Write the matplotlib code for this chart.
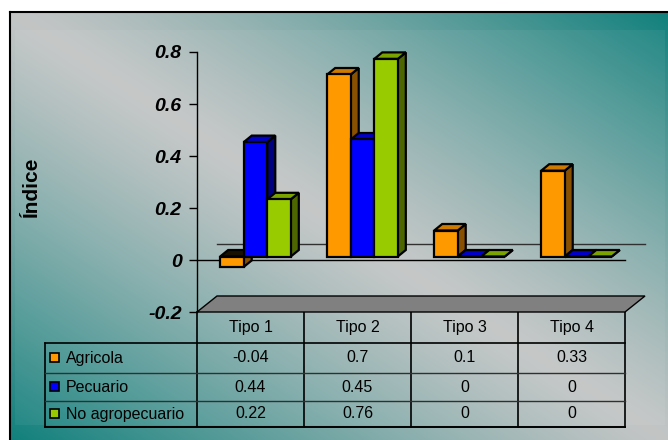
import numpy as np
import matplotlib.pyplot as plt
from matplotlib.patches import Polygon, Rectangle

categories = ['Tipo 1', 'Tipo 2', 'Tipo 3', 'Tipo 4']
series_names = ['Agricola', 'Pecuario', 'No agropecuario']
agricola = [-0.04, 0.7, 0.1, 0.33]
pecuario = [0.44, 0.45, 0, 0]
no_agropecuario = [0.22, 0.76, 0, 0]
yticks = [-0.2, 0, 0.2, 0.4, 0.6, 0.8]
ytick_labels = ['-0.2', '0', '0.2', '0.4', '0.6', '0.8']

# front, side, top colours for each series
face_colors = [
    ('#FF9900', '#885000', '#CC7A00'),
    ('#0000FF', '#000080', '#0000C8'),
    ('#99CC00', '#4D6600', '#7AA300'),
]

plt.rcParams['font.family'] = ['Liberation Sans', 'DejaVu Sans']

W, H = 668, 440
fig = plt.figure(figsize=(W / 100, H / 100), dpi=100)

# background layer in pixel units
bg = fig.add_axes([0, 0, 1, 1])
bg.axis('off')

# diagonal gradient: grey along the top-left/bottom-right diagonal, teal toward the other corners
u = np.linspace(0, 1, 400)
v = np.linspace(0, 1, 300)
U, V = np.meshgrid(u, v)
t = np.clip(np.abs(U - V), 0, 1) ** 1.2
grey = np.array([195, 197, 197]) / 255
teal = np.array([16, 128, 124]) / 255
img = grey + (teal - grey) * t[..., None]
bg.imshow(img, extent=(10, 670, 442, 12), aspect='auto', interpolation='bilinear', zorder=0)
bg.add_patch(Rectangle((15, 30), 650, 395, fc='white', alpha=0.05, lw=0, zorder=1))
bg.plot([10, 668], [12, 12], color='black', lw=1.5, zorder=2)
bg.plot([10, 10], [12, 440], color='black', lw=1.5, zorder=2)
bg.set_xlim(0, W)
bg.set_ylim(H, 0)

bg.text(31, 187, 'Índice', rotation=90, fontsize=15, fontweight='bold',
        ha='center', va='center')

# chart axes (front plane)
ax = fig.add_axes([197 / W, (H - 312) / H, 428 / W, 260 / H])
ax.set_xlim(0, 4)
ax.set_ylim(-0.2, 0.8)
ax.patch.set_visible(False)
for s in ['top', 'right', 'bottom']:
    ax.spines[s].set_visible(False)
ax.spines['left'].set_linewidth(1)
ax.set_xticks([])
ax.set_yticks(yticks)
ax.set_yticklabels(ytick_labels, fontsize=14, fontweight='bold', fontstyle='italic')
ax.tick_params(axis='y', direction='out', length=6, width=1, pad=5)

px = 4 / 428
py = 1 / 260

# floor and zero lines
fdx, fdy = 20 * px, 16 * py
floor = Polygon([(0, -0.2), (4, -0.2), (4 + fdx, -0.2 + fdy), (fdx, -0.2 + fdy)],
                closed=True, fc='#808080', ec='black', lw=1, clip_on=False, zorder=1)
ax.add_patch(floor)
ax.plot([0, 4], [0, 0], color='black', lw=1, clip_on=False, zorder=1)
ax.plot([fdx, 4 + fdx], [fdy, fdy], color='#303030', lw=1, clip_on=False, zorder=1)

# 3D columns
bw = 0.22
bfx, bfy = 5 * px, 3.5 * py
ddx, ddy = 8 * px, 6.5 * py


def draw_bar(xl, val, colors, z):
    front_c, side_c, top_c = colors
    xr = xl + bw
    lo = min(0, val) + bfy
    hi = max(0, val) + bfy
    if val < 0:
        top_c = '#1a1000'
    kw = dict(closed=True, ec='black', lw=1.6, joinstyle='miter', clip_on=False, zorder=z)
    ax.add_patch(Polygon([(xr, lo), (xr + ddx, lo + ddy), (xr + ddx, hi + ddy), (xr, hi)],
                         fc=side_c, **kw))
    ax.add_patch(Polygon([(xl, hi), (xr, hi), (xr + ddx, hi + ddy), (xl + ddx, hi + ddy)],
                         fc=top_c, **kw))
    ax.add_patch(Polygon([(xl, lo), (xr, lo), (xr, hi), (xl, hi)], fc=front_c, **kw))


all_series = [agricola, pecuario, no_agropecuario]
z = 3
for i in range(len(categories)):
    for j, vals in enumerate(all_series):
        xl = i + 0.5 + (j - 1) * bw - bw / 2 + bfx
        draw_bar(xl, vals[i], face_colors[j], z)
        z += 1

# data table below the chart
left, col_w = 197, 107
rows = [312, 343, 373, 401, 427]
right = left + col_w * len(categories)
for k in range(len(categories) + 1):
    bg.plot([left + col_w * k] * 2, [312, 427], color='black', lw=1.2, zorder=3)
bg.plot([45, 45], [343, 427], color='black', lw=1.2, zorder=3)
bg.plot([45, right], [343, 343], color='black', lw=1.2, zorder=3)
bg.plot([45, right], [373, 373], color='#303030', lw=1, zorder=3)
bg.plot([45, right], [401, 401], color='#303030', lw=1, zorder=3)
bg.plot([45, right], [427, 427], color='black', lw=1.4, zorder=3)

for k, cat in enumerate(categories):
    bg.text(left + col_w * (k + 0.5), (rows[0] + rows[1]) / 2, cat,
            fontsize=11.5, ha='center', va='center', zorder=4)

for r, (name, vals) in enumerate(zip(series_names, all_series)):
    yc = (rows[r + 1] + rows[r + 2]) / 2
    bg.add_patch(Rectangle((50, yc - 4.5), 9, 9, fc=face_colors[r][0], ec='black',
                           lw=1.2, zorder=4))
    bg.text(66, yc, name, fontsize=11.5, ha='left', va='center', zorder=4)
    for k, val in enumerate(vals):
        bg.text(left + col_w * (k + 0.5), yc, f'{val:g}', fontsize=11.5,
                ha='center', va='center', zorder=4)

fig.savefig('out.png', dpi=100)
